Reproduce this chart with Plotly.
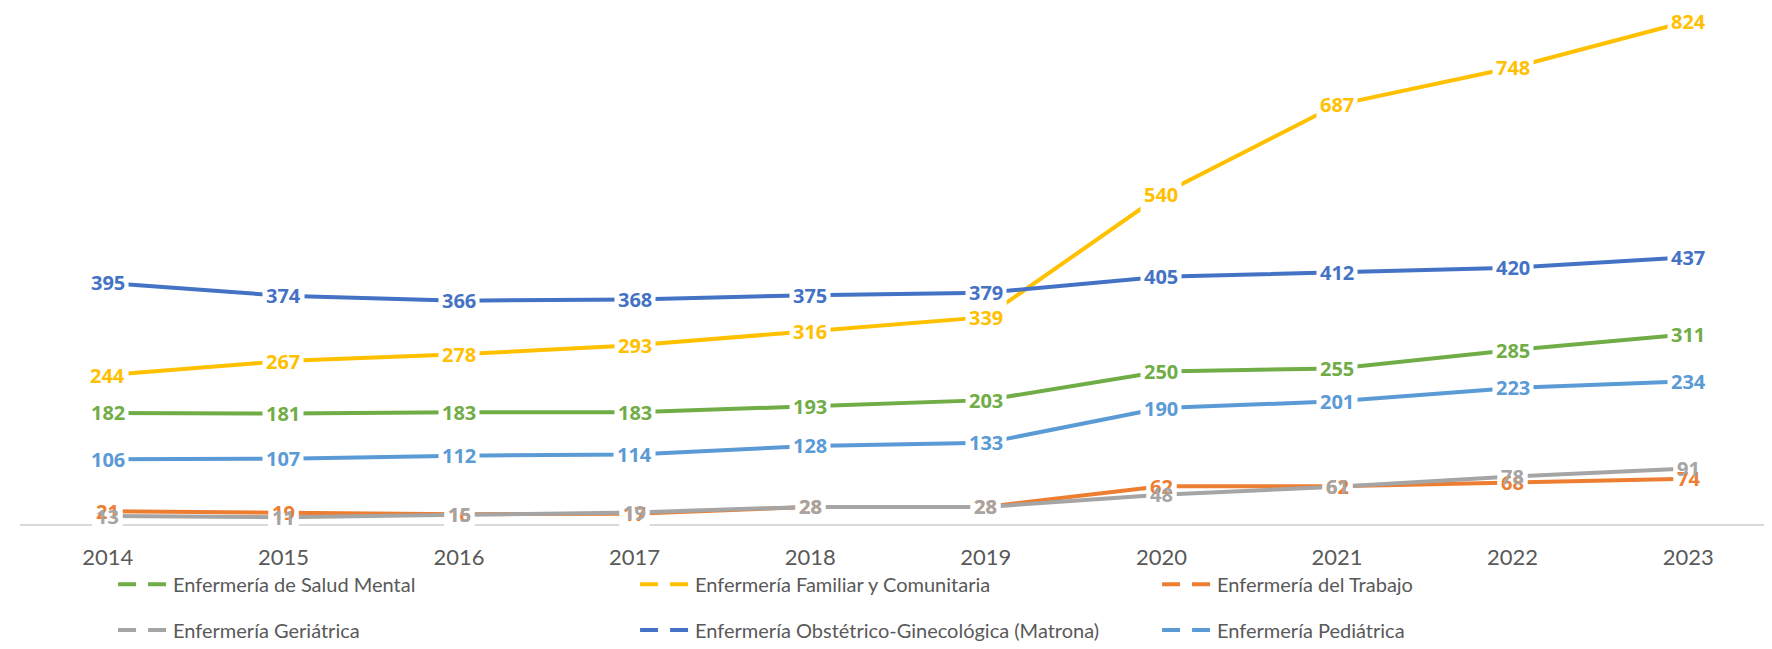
import plotly.graph_objects as go

years = ["2014", "2015", "2016", "2017", "2018", "2019", "2020", "2021", "2022", "2023"]
salud_mental = [182, 181, 183, 183, 193, 203, 250, 255, 285, 311]
familiar = [244, 267, 278, 293, 316, 339, 540, 687, 748, 824]
trabajo = [21, 19, 16, 17, 28, 28, 62, 62, 68, 74]
geriatrica = [13, 11, 15, 19, 28, 28, 48, 61, 78, 91]
obstetrico = [395, 374, 366, 368, 375, 379, 405, 412, 420, 437]
pediatrica = [106, 107, 112, 114, 128, 133, 190, 201, 223, 234]

names = ["Enfermería de Salud Mental", "Enfermería Familiar y Comunitaria", "Enfermería del Trabajo",
         "Enfermería Geriátrica", "Enfermería Obstétrico-Ginecológica (Matrona)", "Enfermería Pediátrica"]
series = [salud_mental, familiar, trabajo, geriatrica, obstetrico, pediatrica]
colors = ["#70AD47", "#FFC000", "#ED7D31", "#A5A5A5", "#4472C4", "#5B9BD5"]

fig = go.Figure()
for nm, vals, c in zip(names, series, colors):
    fig.add_trace(go.Scatter(x=years, y=vals, mode="lines", line=dict(color=c, width=4),
                             showlegend=False, hoverinfo="skip"))

for i, (nm, c) in enumerate(zip(names, colors)):
    fig.add_trace(go.Scatter(x=[None], y=[None], mode="lines", name=nm,
                             line=dict(color=c, width=4, dash="18px,12px"),
                             legend="legend" if i < 3 else "legend2"))

lab_font = dict(family="Open Sans, Noto Sans, DejaVu Sans", size=20, weight=700)
annotations = []
# white masks first (line gaps around labels), then the coloured texts
for vals in series:
    for xi, v in enumerate(vals):
        annotations.append(dict(x=xi, y=v, xref="x", yref="y", text="<b>%d</b>" % v, showarrow=False,
                                xanchor="center", yanchor="middle",
                                font=dict(lab_font, color="white"), bgcolor="white", borderpad=3))
for vals, c in zip(series, colors):
    for xi, v in enumerate(vals):
        annotations.append(dict(x=xi, y=v, xref="x", yref="y", text="<b>%d</b>" % v, showarrow=False,
                                xanchor="center", yanchor="middle",
                                font=dict(lab_font, color=c), borderpad=3))

leg_common = dict(orientation="h", xanchor="left", yanchor="middle", x=0.053,
                  font=dict(family="Lato", size=20, color="#595959"), itemwidth=50,
                  entrywidth=457, entrywidthmode="pixels", bgcolor="rgba(0,0,0,0)")

fig.update_layout(
    width=1772, height=649,
    margin=dict(l=12, r=4, t=1, b=133),
    plot_bgcolor="white", paper_bgcolor="white",
    annotations=annotations,
    legend=dict(leg_common, y=-0.117),
    legend2=dict(leg_common, y=-0.206),
    xaxis=dict(type="category", range=[-0.5, 9.5], showgrid=False, showline=True,
               linecolor="#D9D9D9", linewidth=2, ticks="", ticklabelstandoff=13,
               tickfont=dict(family="Lato", size=22, color="#595959")),
    yaxis=dict(range=[0, 844], showgrid=False, showticklabels=False, zeroline=False, showline=False),
)

fig.write_html("out.html")
